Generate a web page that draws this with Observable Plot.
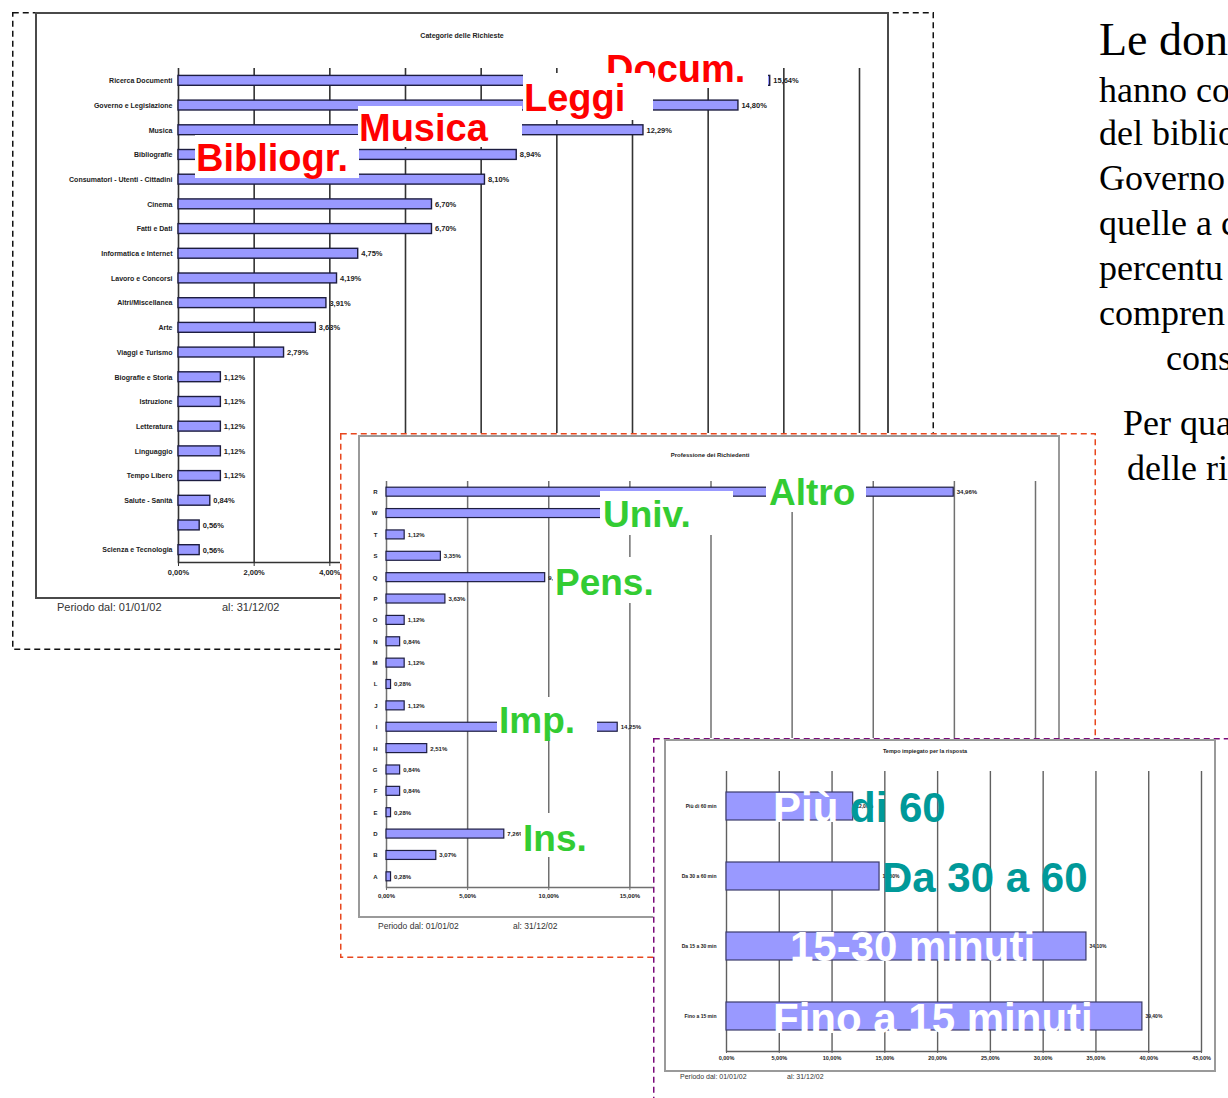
<!DOCTYPE html>
<html><head><meta charset="utf-8">
<script src="https://cdn.jsdelivr.net/npm/d3@7"></script>
<script src="https://cdn.jsdelivr.net/npm/@observablehq/plot@0.6"></script>
<style>
html,body{margin:0;padding:0;background:#fff;overflow:hidden;}
#page{position:relative;width:1228px;height:1098px;overflow:hidden;font-family:"Liberation Sans",Arial,sans-serif;}
.panel{position:absolute;background:#fff;overflow:visible;}
.dash{position:absolute;left:0;top:0;overflow:visible;}
.frame{position:absolute;box-sizing:content-box;}
.frame svg{display:block;}
.period{position:absolute;white-space:nowrap;color:#333;}
.ttl{position:absolute;white-space:nowrap;font-weight:bold;color:#222;transform:translateX(-50%);}
#overlay{position:absolute;left:0;top:0;}
</style></head>
<body>
<div id="page">
  <div class="panel" id="p1" style="left:12px;top:12px;width:922px;height:638px;"></div>
  <div class="panel" id="p2" style="left:340px;top:433px;width:756px;height:525px;"></div>
  <div class="panel" id="p3" style="left:653px;top:738px;width:620px;height:420px;"></div>
  <svg id="overlay" width="1228" height="1098"></svg>
</div>
<script>
// ---------- data ----------
const cat1 = ["Ricerca Documenti","Governo e Legislazione","Musica","Bibliografie","Consumatori - Utenti - Cittadini","Cinema","Fatti e Dati","Informatica e Internet","Lavoro e Concorsi","Altri/Miscellanea","Arte","Viaggi e Turismo","Biografie e Storia","Istruzione","Letteratura","Linguaggio","Tempo Libero","Salute - Sanità"," ","Scienza e Tecnologia"];
const val1 = [15.64,14.80,12.29,8.94,8.10,6.70,6.70,4.75,4.19,3.91,3.63,2.79,1.12,1.12,1.12,1.12,1.12,0.84,0.56,0.56];
const ticks1 = [0,2,4,6,8,10,12,14,16,18];
const title1 = "Categorie delle Richieste";

const cat2 = ["R","W","T","S","Q","P","O","N","M","L","J","I","H","G","F","E","D","B","A"];
const val2 = [34.96,13.35,1.12,3.35,9.78,3.63,1.12,0.84,1.12,0.28,1.12,14.25,2.51,0.84,0.84,0.28,7.26,3.07,0.28];
const ticks2 = [0,5,10,15,20,25,30,35,40];
const title2 = "Professione dei Richiedenti";

const cat3 = ["Più di 60 min","Da 30 a 60 min","Da 15 a 30 min","Fino a 15 min"];
const val3 = [12.0,14.5,34.1,39.4];
const ticks3 = [0,5,10,15,20,25,30,35,40,45];
const title3 = "Tempo impiegato per la risposta";

const periodFrom = "Periodo dal:  01/01/02";
const periodTo = "al:  31/12/02";

const labels1 = ["Docum.","Leggi","Musica","Bibliogr."];
const labels2 = ["Altro","Univ.","Pens.","Imp.","Ins."];
const labels3 = ["15-30 minuti","Fino a 15 minuti","Da 30 a 60"];
const label3a = ["Più ","di 60"];

const sideText = ["Le don","hanno co","del biblio","Governo","quelle a c","percentu","compren","cons","Per qua","delle ri"];

// ---------- helpers ----------
const pct = v => v.toFixed(2).replace('.', ',') + '%';
const FONT = "'Liberation Sans', Arial, sans-serif";

function chart(o){
  const data = o.cats.map((c,i)=>({c, v:o.vals[i]}));
  return Plot.plot({
    width:o.w, height:o.h, marginLeft:o.ml, marginRight:o.mr, marginTop:o.mt, marginBottom:o.mb,
    style:{fontFamily:FONT, background:"transparent", color:"#111", overflow:"visible"},
    x:{domain:[o.ticks[0], o.ticks[o.ticks.length-1]]},
    y:{domain:o.cats, paddingInner:o.pad, paddingOuter:o.pad/2, round:false},
    marks:[
      Plot.gridX(o.ticks, {stroke:o.grid, strokeOpacity:1, strokeWidth:o.gw}),
      Plot.frame({anchor:"bottom", stroke:o.grid, strokeWidth:o.gw}),
      Plot.barX(data, {x:"v", y:"c", fill:"#9999ff", stroke:o.bs, strokeWidth:o.bsw}),
      Plot.text(data, {x:"v", y:"c", text:d=>pct(d.v), textAnchor:"start", dx:3, fontSize:o.vfs, fontWeight:"bold", fill:"#222"}),
      Plot.axisX({ticks:o.ticks, tickFormat:pct, tickSize:o.ts, tickPadding:o.tp, fontSize:o.xfs, fontWeight:"bold", label:null, stroke:o.grid, fill:"#222"}),
      Plot.axisY({tickSize:0, tickPadding:o.ytp, fontSize:o.yfs, fontWeight:"bold", label:null, fill:"#222"})
    ]
  });
}

function dashed(panel, w, h, color){
  const s = d3.select(panel).append("svg").attr("class","dash").attr("width",w).attr("height",h);
  s.append("rect").attr("x",0.75).attr("y",0.75).attr("width",w-1.5).attr("height",h-1.5)
    .attr("fill","#fff").attr("stroke",color).attr("stroke-width",1.5).attr("stroke-dasharray","6,4");
}
function framed(panel, left, top, border, svg){
  const f = document.createElement("div");
  f.className = "frame";
  f.style.left = left + "px"; f.style.top = top + "px"; f.style.border = border;
  f.appendChild(svg);
  panel.appendChild(f);
}
function txt(panel, cls, s, left, top, size){
  const d = document.createElement("div");
  d.className = cls; d.textContent = s;
  d.style.left = left + "px"; d.style.top = top + "px"; d.style.fontSize = size + "px";
  panel.appendChild(d);
}

// ---------- panel 1 ----------
const p1 = document.getElementById("p1");
dashed(p1, 922, 638, "#111");
framed(p1, 23, 0, "2px solid #4a4a4a", chart({
  cats:cat1, vals:val1, ticks:ticks1, w:850, h:583, ml:141, mr:28, mt:54, mb:35, pad:0.6,
  grid:"#333", gw:1.6, bs:"#1d1d40", bsw:1.4, vfs:7.5, xfs:7.5, ts:4, tp:3, ytp:6, yfs:7
}));
txt(p1, "ttl", title1, 450, 20, 7);
txt(p1, "period", periodFrom, 45, 589, 11);
txt(p1, "period", periodTo, 210, 589, 11);

// ---------- panel 2 ----------
const p2 = document.getElementById("p2");
dashed(p2, 756, 525, "#e8471e");
framed(p2, 18, 2, "2px solid #9a9a9a", chart({
  cats:cat2, vals:val2, ticks:ticks2, w:698, h:479, ml:26, mr:23, mt:44, mb:29, pad:0.58,
  grid:"#707070", gw:1.5, bs:"#1d1d40", bsw:1.2, vfs:6, xfs:6, ts:3, tp:3, ytp:9, yfs:6
}));
txt(p2, "ttl", title2, 370, 19, 6);
txt(p2, "period", periodFrom, 38, 488, 8.5);
txt(p2, "period", periodTo, 173, 488, 8.5);

// ---------- panel 3 ----------
const p3 = document.getElementById("p3");
dashed(p3, 620, 420, "#7a0a7a");
framed(p3, 11, 1, "2px solid #9a9a9a", chart({
  cats:cat3, vals:val3, ticks:ticks3, w:548, h:329, ml:60, mr:13, mt:30, mb:19, pad:0.6,
  grid:"#606060", gw:1.4, bs:"#3b3b6b", bsw:1.2, vfs:5, xfs:5.5, ts:2, tp:3, ytp:10, yfs:5
}));
txt(p3, "ttl", title3, 272, 10, 5.5);
txt(p3, "period", periodFrom, 27, 335, 7);
txt(p3, "period", periodTo, 134, 335, 7);

// ---------- overlay annotations ----------
const ov = d3.select("#overlay");
function note(s, x, y, size, color, box){
  if (box) ov.append("rect").attr("x",box[0]).attr("y",box[1]).attr("width",box[2]).attr("height",box[3]).attr("fill","#fff");
  ov.append("text").attr("x",x).attr("y",y).attr("font-family",FONT).attr("font-weight","bold")
    .attr("font-size",size).attr("fill",color).text(s);
}
const RED = "#ff0000", GREEN = "#33cc33", TEAL = "#009999";
note(labels1[0], 606, 82, 38, RED, [605,44,163,44]);
note(labels1[1], 524, 111, 38, RED, [523,73,130,47]);
note(labels1[2], 359, 141, 38, RED, [358,106,164,41]);
note(labels1[3], 196, 171, 38, RED, [195,135,164,43]);

note(labels2[0], 769, 505, 37, GREEN, [766,475,100,37]);
note(labels2[1], 603, 527, 37, GREEN, [600,491,133,44]);
note(labels2[2], 555, 595, 37, GREEN, [553,557,127,46]);
note(labels2[3], 499, 733, 37, GREEN, [497,697,100,40]);
note(labels2[4], 523, 851, 37, GREEN, [521,813,84,44]);

const t3a = ov.append("text").attr("x",773).attr("y",822).attr("font-family",FONT).attr("font-weight","bold").attr("font-size",42);
t3a.append("tspan").attr("fill","#fff").text(label3a[0]);
t3a.append("tspan").attr("fill",TEAL).text(label3a[1]);
note(labels3[2], 882, 892, 42, TEAL);
note(labels3[0], 790, 961, 42, "#fff");
note(labels3[1], 773, 1033, 42, "#fff");

// ---------- side text ----------
const SERIF = "'Liberation Serif', 'Times New Roman', serif";
const side = [[1099,55,46],[1099,102,36],[1099,145,36],[1099,190,36],[1099,235,36],[1099,280,36],[1099,325,36],[1166,370,36],[1123,435,36],[1127,480,36]];
sideText.forEach((s,i)=>{
  ov.append("text").attr("x",side[i][0]).attr("y",side[i][1]).attr("font-family",SERIF)
    .attr("font-size",side[i][2]).attr("fill","#000").text(s);
});
</script>
</body></html>
